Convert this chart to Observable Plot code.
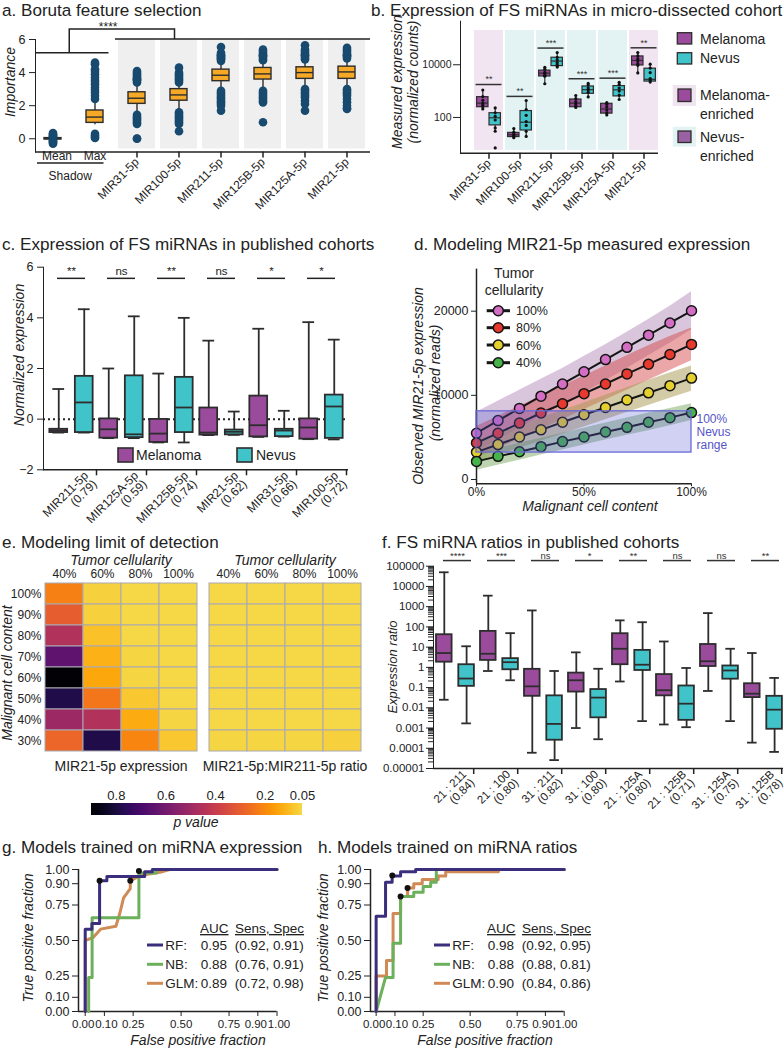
<!DOCTYPE html>
<html lang="en">
<head>
<meta charset="utf-8">
<title>FS miRNA figure</title>
<script src="https://cdn.jsdelivr.net/npm/d3@7"></script>
<script src="https://cdn.jsdelivr.net/npm/@observablehq/plot@0.6"></script>
<style>
  html, body { margin: 0; padding: 0; background: #fff; }
  #fig { position: relative; width: 784px; height: 1050px; overflow: hidden; background: #fff; }
</style>
</head>
<body>
<div id="fig"></div>
<script>
// ======================= DATA =======================
// ---- Panel a: Boruta importance ----
const aCats = ["Mean","Max","MIR31-5p","MIR100-5p","MIR211-5p","MIR125B-5p","MIR125A-5p","MIR21-5p"];
const aShadow = ["Mean","Max"];
const aSelected = ["MIR31-5p","MIR100-5p","MIR211-5p","MIR125B-5p","MIR125A-5p","MIR21-5p"];
const aTicks = [0, 2, 4, 6];
const aLo  = [-0.08, 0.85, 1.50, 1.65, 2.95, 3.00, 3.05, 3.05];
const aQ1  = [-0.04, 0.96, 2.11, 2.30, 3.48, 3.58, 3.62, 3.62];
const aMed = [ 0.00, 1.31, 2.45, 2.65, 3.84, 3.92, 4.00, 4.04];
const aQ3  = [ 0.04, 1.71, 2.81, 3.00, 4.18, 4.28, 4.32, 4.36];
const aHi  = [ 0.08, 2.30, 3.30, 3.35, 4.65, 4.70, 4.75, 4.80];
const aOutliers = [
  [-0.30,-0.25,-0.20,-0.15,-0.10,-0.05,0,0.05,0.10,0.15,0.20,0.25,0.30,0.35],
  [0.05,0.10,0.20,0.30,2.4,2.6,2.8,2.95,3.1,3.3,3.45,3.55,3.7,3.9,4.05,4.2,4.5,4.6],
  [0,0.02,0.9,1.0,1.1,1.2,1.25,1.35,1.45,3.4,3.5,3.55,3.6,3.65,3.7,3.8,3.9,4.0,4.1],
  [0.45,0.9,1.0,1.1,1.2,1.3,1.4,1.5,1.6,3.4,3.5,3.6,3.7,3.8,3.9,4.0,4.3],
  [1.7,2.0,2.1,2.2,2.3,2.4,2.5,2.6,2.7,2.8,2.9,4.7,4.8,4.85,4.9,4.95,5.0,5.05,5.1,5.2,5.55],
  [1.0,2.2,2.3,2.4,2.5,2.6,2.7,2.8,2.9,4.75,4.85,4.95,5.0,5.05,5.1,5.2,5.3,5.4],
  [1.7,2.1,2.3,2.5,2.6,2.7,2.8,2.9,3.0,4.8,4.9,5.0,5.05,5.1,5.2,5.3,5.4,5.65],
  [1.8,1.85,2.0,2.2,2.4,2.6,2.7,2.8,2.9,3.0,4.85,4.95,5.0,5.05,5.1,5.2,5.3,5.4,5.5]
];

// ---- Panel b: micro-dissected cohort ----
const bCats = ["MIR31-5p","MIR100-5p","MIR211-5p","MIR125B-5p","MIR125A-5p","MIR21-5p"];
const bMelEnriched = ["MIR31-5p","MIR21-5p"];
const bNevEnriched = ["MIR100-5p","MIR211-5p","MIR125B-5p","MIR125A-5p"];
const bTicks = [100, 10000];
const bMelLo  = [185, 16, 1900, 230, 120, 4800];
const bMelQ1  = [245, 18, 3600, 245, 140, 9400];
const bMelMed = [350, 22, 4800, 350, 210, 14600];
const bMelQ3  = [590, 26, 6000, 480, 330, 20700];
const bMelHi  = [1150, 40, 8100, 690, 380, 30000];
const bNevLo  = [30, 19, 8100, 540, 470, 2100];
const bNevQ1  = [50, 32, 8900, 790, 630, 2300];
const bNevMed = [97, 66, 13800, 1130, 1120, 2800];
const bNevQ3  = [145, 175, 18500, 1500, 1550, 7100];
const bNevHi  = [235, 450, 30000, 2000, 2200, 11000];
const bMelPoints = [
  [1100, 620, 450, 350, 300, 260, 210],
  [38, 28, 24, 21, 19, 17],
  [8000, 6800, 5200, 4600, 4000, 3700, 1900],
  [680, 520, 400, 330, 280, 240],
  [370, 320, 250, 190, 150, 125],
  [29000, 22000, 17000, 14000, 11000, 9500, 4900]
];
const bNevPoints = [
  [230, 150, 110, 80, 40, 30, 7],
  [440, 200, 120, 70, 50, 30, 19],
  [29000, 19000, 15000, 12000, 10000, 9000, 8200],
  [1950, 1700, 1300, 1100, 900, 600],
  [2150, 1800, 1300, 1000, 700, 480],
  [10500, 7500, 5000, 3000, 2500, 2200]
];
const bSigY = [1780, 630, 43000, 2950, 3100, 44000];
const bSigLabel = ["**","**","***","***","***","**"];

// ---- Panel c: published cohorts, normalized expression ----
const cGenes = ["MIR211-5p","MIR125A-5p","MIR125B-5p","MIR21-5p","MIR31-5p","MIR100-5p"];
const cAUC = ["0.79","0.59","0.74","0.62","0.66","0.72"];
const cTicks = [-2, 0, 2, 4, 6];
const cMelLo  = [-0.53, -0.75, -0.92, -0.63, -0.70, -0.79];
const cMelQ1  = [-0.53, -0.75, -0.92, -0.63, -0.70, -0.79];
const cMelMed = [-0.45, -0.40, -0.57, -0.53, -0.24, -0.33];
const cMelQ3  = [-0.40,  0.01, -0.01,  0.44,  0.91,  0.01];
const cMelHi  = [ 1.19,  2.00,  1.80,  3.10,  3.57,  3.83];
const cNevLo  = [-0.53, -0.75, -0.92, -0.62, -0.69, -0.80];
const cNevQ1  = [-0.53, -0.73, -0.53, -0.62, -0.69, -0.76];
const cNevMed = [ 0.66, -0.60,  0.46, -0.50, -0.45,  0.50];
const cNevQ3  = [ 1.69,  1.71,  1.65, -0.43, -0.40,  0.95];
const cNevHi  = [ 4.34,  4.06,  4.00,  0.30,  0.33,  3.14];
const cSigY = [5.56, 5.56, 5.56, 5.56, 5.56, 5.56];
const cSigLabel = ["**","ns","**","ns","*","*"];

// ---- Panel d: modeled MIR21-5p expression ----
const dContent = [0, 10, 20, 30, 40, 50, 60, 70, 80, 90, 100];
const dLevels = ["100%","80%","60%","40%"];
const d100 = [5500, 7000, 8450, 9900, 11350, 12800, 14250, 15700, 17150, 18600, 20050];
const d80  = [4350, 5500, 6700, 7900, 9000, 10200, 11350, 12550, 13700, 14850, 16050];
const d60  = [3250, 4150, 5050, 5900, 6800, 7700, 8550, 9450, 10300, 11150, 12050];
const d40  = [2150, 2750, 3300, 3900, 4500, 5050, 5650, 6200, 6800, 7350, 7950];
const d100Lo = [3300, 4700, 6100, 7500, 8900, 10300, 11700, 13200, 14700, 16200, 17800];
const d100Hi = [8000, 9300, 10600, 11900, 13200, 14600, 16000, 17500, 19000, 20600, 22300];
const d80Lo  = [2500, 3650, 4800, 5950, 7100, 8300, 9450, 10600, 11800, 12950, 14100];
const d80Hi  = [6300, 7500, 8700, 9900, 11100, 12300, 13500, 14700, 15900, 17000, 18000];
const d60Lo  = [2000, 2850, 3700, 4550, 5400, 6250, 7100, 7950, 8800, 9650, 10500];
const d60Hi  = [4600, 5500, 6400, 7300, 8200, 9100, 10000, 10900, 11800, 12650, 13500];
const d40Lo  = [1100, 1700, 2300, 2900, 3500, 4100, 4700, 5250, 5800, 6400, 7000];
const d40Hi  = [3100, 3700, 4300, 4900, 5500, 6100, 6700, 7300, 7900, 8450, 9000];
const dNevusRange = [3200, 8100];
const dXTicks = [0, 50, 100];
const dYTicks = [0, 10000, 20000];
const dDotColors = ["#d46ec4", "#e8392e", "#e6d02e", "#46b448"];
const dBandColors = ["#a070a8", "#d23c3c", "#a89850", "#6aa050"];

// ---- Panel e: limit of detection heatmaps ----
const ePanels = ["MIR21-5p expression", "MIR21-5p:MIR211-5p ratio"];
const eCellularity = ["40%","60%","80%","100%"];
const eContent = ["100%","90%","80%","70%","60%","50%","40%","30%"];
const ePExpr = [
  [0.22, 0.06, 0.05, 0.05],
  [0.30, 0.06, 0.05, 0.05],
  [0.45, 0.09, 0.05, 0.05],
  [0.645, 0.12, 0.055, 0.05],
  [0.89, 0.14, 0.055, 0.05],
  [0.78, 0.24, 0.08, 0.05],
  [0.50, 0.45, 0.13, 0.055],
  [0.28, 0.78, 0.21, 0.08]
];
const ePRatio = [
  [0.02, 0.02, 0.02, 0.02],
  [0.02, 0.02, 0.02, 0.02],
  [0.02, 0.02, 0.02, 0.02],
  [0.02, 0.02, 0.02, 0.02],
  [0.02, 0.02, 0.02, 0.02],
  [0.02, 0.02, 0.02, 0.02],
  [0.02, 0.02, 0.02, 0.02],
  [0.055, 0.055, 0.055, 0.06]
];
const eLegendTicks = [0.8, 0.6, 0.4, 0.2, 0.05];

// ---- Panel f: miRNA ratios ----
const fRatios = ["21 : 211","21 : 100","31 : 211","31 : 100","21 : 125A","21 : 125B","31 : 125A","31 : 125B"];
const fAUC = ["0.84","0.80","0.82","0.80","0.80","0.71","0.75","0.78"];
const fTickValues = [0.00001, 0.0001, 0.001, 0.01, 0.1, 1, 10, 100, 1000, 10000, 100000];
const fTickText = ["0.00001","0.0001","0.001","0.01","0.1","1","10","100","1000","10000","100000"];
const fMelLo  = [0.025, 0.66, 0.00006, 0.001, 0.2, 0.0015, 0.068, 0.00019];
const fMelQ1  = [1.8, 2.2, 0.037, 0.06, 1.35, 0.039, 1.1, 0.032];
const fMelMed = [5.1, 4.7, 0.115, 0.23, 8.3, 0.074, 2.0, 0.05];
const fMelQ3  = [41, 60, 0.8, 0.52, 46, 0.44, 13.5, 0.155];
const fMelHi  = [50000, 3500, 650, 5.5, 210, 19, 480, 5.1];
const fNevLo  = [0.0017, 0.23, 0.000026, 0.00028, 0.0022, 0.0011, 0.0022, 0.000066];
const fNevQ1  = [0.115, 0.76, 0.00025, 0.0032, 0.7, 0.0024, 0.26, 0.00087];
const fNevMed = [0.28, 1.8, 0.0016, 0.032, 1.35, 0.016, 0.7, 0.0081];
const fNevQ3  = [1.35, 2.7, 0.039, 0.08, 6.9, 0.12, 1.17, 0.037];
const fNevHi  = [11, 49, 0.66, 0.85, 170, 0.93, 8.3, 0.3];
const fSigY = [190000, 190000, 190000, 190000, 190000, 190000, 190000, 190000];
const fSigLabel = ["****","***","ns","*","**","ns","ns","**"];

// ---- Panels g, h: ROC curves ----
const rocTicks = [0, 0.10, 0.25, 0.50, 0.75, 0.90, 1.00];
const rocTicksLeftNudge = [0, 0.90];
const rocTicksRightNudge = [0.10, 1.00];
const rocTicksCentered = [0.25, 0.50, 0.75];
const rocModels = ["RF:", "NB:", "GLM:"];
const rocColors = ["#3b2f7d", "#6cb05c", "#d08a56"];
const gRF  = [[0,0],[0,0.58],[0.035,0.58],[0.035,0.62],[0.075,0.62],[0.075,0.92],[0.113,0.92],[0.113,0.95],[0.31,0.95],[0.31,0.985],[0.35,0.985],[0.35,1],[1,1]];
const gNB  = [[0.018,0],[0.018,0.24],[0.036,0.24],[0.036,0.66],[0.28,0.66],[0.28,0.975],[0.37,0.975],[0.37,1],[1,1]];
const gGLM = [[0,0],[0,0.5],[0.04,0.52],[0.08,0.58],[0.16,0.6],[0.18,0.69],[0.2,0.8],[0.235,0.865],[0.235,0.92],[0.29,0.96],[0.39,0.98],[0.44,1],[1,1]];
const gCutoffs = [[0.075,0.92],[0.235,0.92],[0.28,0.99]];
const gAUC = ["0.95","0.88","0.89"];
const gSensSpec = ["(0.92, 0.91)","(0.76, 0.91)","(0.72, 0.98)"];
const hRF  = [[0,0],[0,0.67],[0.05,0.67],[0.05,0.91],[0.085,0.91],[0.085,0.955],[0.13,0.955],[0.13,0.985],[0.21,0.985],[0.21,1],[0.33,1],[1,1]];
const hNB  = [[0,0],[0.05,0.24],[0.09,0.24],[0.09,0.48],[0.13,0.48],[0.13,0.81],[0.2,0.81],[0.2,0.84],[0.25,0.84],[0.25,0.88],[0.29,0.88],[0.29,0.91],[0.32,0.91],[0.32,1],[1,1]];
const hGLM = [[0,0],[0,0.25],[0.055,0.25],[0.055,0.36],[0.09,0.36],[0.09,0.69],[0.13,0.69],[0.13,0.81],[0.167,0.81],[0.167,0.87],[0.2,0.87],[0.2,0.9],[0.245,0.9],[0.245,0.93],[0.33,0.93],[0.33,0.955],[0.37,0.955],[0.37,0.985],[0.65,0.985],[0.65,1],[1,1]];
const hCutoffs = [[0.086,0.957],[0.13,0.81],[0.167,0.87]];
const hAUC = ["0.98","0.88","0.90"];
const hSensSpec = ["(0.92, 0.95)","(0.88, 0.81)","(0.84, 0.86)"];

// ======================= HELPERS =======================
const FONT = '"Liberation Sans", Arial, Helvetica, sans-serif';
const INK = "#222";
const MEL = "#9a4b9c";
const NEV = "#41c3ca";
const EDGE = "#2d2d2d";
const fig = document.getElementById("fig");

function sty(fs) {
  return {fontFamily: FONT, fontSize: fs + "px", color: INK, background: "transparent", overflow: "visible"};
}
function put(node, left, top) {
  node.style.position = "absolute";
  node.style.left = left + "px";
  node.style.top = top + "px";
  fig.appendChild(node);
  return node;
}
function rowsOf(cats, lo, q1, med, q3, hi) {
  return cats.map((cat, i) => ({cat, lo: lo[i], q1: q1[i], med: med[i], q3: q3[i], hi: hi[i]}));
}
function pointsOf(cats, lists) {
  return cats.flatMap((cat, i) => lists[i].map(v => ({cat, v})));
}
function boxMarks(rows, {dx = 0, inset = 0, capInset = null, fill, stroke = EDGE, sw = 1.6}) {
  const m = [Plot.ruleX(rows, {x: "cat", y1: "lo", y2: "hi", dx, stroke, strokeWidth: sw})];
  if (capInset != null) {
    m.push(Plot.tickY(rows, {x: "cat", y: "lo", dx, insetLeft: capInset, insetRight: capInset, stroke, strokeWidth: sw}));
    m.push(Plot.tickY(rows, {x: "cat", y: "hi", dx, insetLeft: capInset, insetRight: capInset, stroke, strokeWidth: sw}));
  }
  m.push(Plot.barY(rows, {x: "cat", y1: "q1", y2: "q3", dx, insetLeft: inset, insetRight: inset, fill, stroke, strokeWidth: sw}));
  m.push(Plot.tickY(rows, {x: "cat", y: "med", dx, insetLeft: inset, insetRight: inset, stroke, strokeWidth: sw}));
  return m;
}
function run(name, fn) { try { fn(); } catch (e) { console.error(name, e); } }

// ======================= PANEL a =======================
run("a", () => {
  const boxes = rowsOf(aCats, aLo, aQ1, aMed, aQ3, aHi);
  const dots = pointsOf(aCats, aOutliers);
  const p = Plot.plot({
    width: 380, height: 232, marginLeft: 35, marginRight: 10, marginTop: 21, marginBottom: 98.5,
    style: sty(12.5),
    x: {domain: aCats, range: [28, 370.3], paddingInner: 0.12, paddingOuter: 0.05},
    y: {domain: [-0.8, 6], ticks: aTicks, tickFormat: d3.format("d"), tickSize: 6, tickPadding: 4, line: true, label: null},
    marks: [
      Plot.barY(aSelected, {x: d => d, y1: () => -0.62, y2: () => 6, fill: "#efefef"}),
      Plot.ruleY([-0.8], {stroke: INK, strokeWidth: 1.5}),
      Plot.axisX({ticks: aSelected, tickRotate: -45, tickSize: 6, tickPadding: 2, fontSize: 12, label: null, strokeWidth: 1.5}),
      Plot.text(aShadow.slice(0, 1), {x: d => d, text: d => d, frameAnchor: "bottom", dy: 8, dx: 4, fontSize: 12}),
      Plot.text(aShadow.slice(1), {x: d => d, text: d => d, frameAnchor: "bottom", dy: 8, fontSize: 12}),
      ...boxMarks(boxes, {inset: 10, fill: "#f6a827", sw: 1.4}),
      Plot.dot(dots, {x: "cat", y: "v", r: 4.3, fill: "#174a6e"})
    ]
  });
  put(p, 0, 18);
  const sx = p.scale("x"), sy = p.scale("y"), bw = sx.bandwidth;
  const cx = c => sx.apply(c) + bw / 2;
  const g = d3.select(p).append("g").attr("stroke", INK).attr("stroke-width", 1.5).attr("fill", "none");
  const ys = sy.apply(5.17), yTop = sy.apply(6.6), yM = sy.apply(6.0);
  const xs0 = 36, xs1 = cx("Max") + 14;
  const xm0 = sx.apply("MIR31-5p") - 3, xm1 = 370;
  const xl = (xs0 + xs1) / 2 - 3, xr = cx("MIR100-5p") - 4;
  g.append("line").attr("x1", xs0).attr("x2", xs1).attr("y1", ys).attr("y2", ys);
  g.append("line").attr("x1", xm0).attr("x2", xm1).attr("y1", yM).attr("y2", yM);
  g.append("path").attr("d", `M${xl},${ys}V${yTop}H${xr}V${yM}`);
  const yb = sy.apply(-0.8);
  const u0 = 37, u1 = cx("Max") + 9;
  g.append("line").attr("x1", u0).attr("x2", u1).attr("y1", yb + 11.5).attr("y2", yb + 11.5);
  const t = d3.select(p).append("g").attr("fill", INK).attr("font-family", FONT).attr("text-anchor", "middle");
  t.append("text").attr("x", xl + (xr - xl) * 0.37).attr("y", yTop + 2).attr("font-size", 12).text("****");
  t.append("text").attr("x", (u0 + u1) / 2).attr("y", yb + 28.5).attr("font-size", 12).text("Shadow");
});

// ======================= PANEL b =======================
run("b", () => {
  const mel = rowsOf(bCats, bMelLo, bMelQ1, bMelMed, bMelQ3, bMelHi);
  const nev = rowsOf(bCats, bNevLo, bNevQ1, bNevMed, bNevQ3, bNevHi);
  const sig = bCats.map((cat, i) => ({cat, y: bSigY[i], label: bSigLabel[i]}));
  const p = Plot.plot({
    width: 290, height: 245, marginLeft: 70, marginRight: 22, marginTop: 3.7, marginBottom: 109.3,
    style: sty(10.5),
    x: {domain: bCats, paddingInner: 0.07, paddingOuter: 0.2, align: 1},
    y: {type: "log", domain: [4.4, 450000], ticks: bTicks, tickFormat: d3.format("d"), tickSize: 7, tickPadding: 2, line: true, label: null},
    marks: [
      Plot.barY(bMelEnriched, {x: d => d, y1: () => 5.6, y2: () => 200000, fill: "#f1e5f1"}),
      Plot.barY(bNevEnriched, {x: d => d, y1: () => 5.6, y2: () => 200000, fill: "#e3f3f4"}),
      Plot.ruleY([4.4], {stroke: INK, strokeWidth: 1.5}),
      Plot.axisX({tickRotate: -45, tickSize: 6, tickPadding: 2, fontSize: 12, label: null, strokeWidth: 1.5}),
      ...boxMarks(mel, {dx: -6.2, inset: 8.8, fill: MEL, sw: 1.2}),
      ...boxMarks(nev, {dx: 6.2, inset: 8.8, fill: NEV, sw: 1.2}),
      Plot.dot(pointsOf(bCats, bMelPoints), {x: "cat", y: "v", dx: -6.2, r: 1.6, fill: "#111"}),
      Plot.dot(pointsOf(bCats, bNevPoints), {x: "cat", y: "v", dx: 6.2, r: 1.6, fill: "#111"}),
      Plot.tickY(sig, {x: "cat", y: "y", insetLeft: 1.5, insetRight: 1.5, stroke: "#333", strokeWidth: 1.5}),
      Plot.text(sig, {x: "cat", y: "y", text: "label", dy: -5, fontSize: 9, fill: "#333"})
    ]
  });
  put(p, 390, 17);
});

// ======================= PANEL c =======================
run("c", () => {
  const mel = rowsOf(cGenes, cMelLo, cMelQ1, cMelMed, cMelQ3, cMelHi);
  const nev = rowsOf(cGenes, cNevLo, cNevQ1, cNevMed, cNevQ3, cNevHi);
  const sig = cGenes.map((cat, i) => ({cat, y: cSigY[i], label: cSigLabel[i]}));
  const label = new Map(cGenes.map((g, i) => [g, `${g}\n(${cAUC[i]})`]));
  const p = Plot.plot({
    width: 390, height: 268, marginLeft: 43, marginRight: 42, marginTop: 8.7, marginBottom: 56.7,
    style: sty(12.5),
    x: {domain: cGenes, paddingInner: 0, paddingOuter: 0.04},
    y: {domain: [-2, 6], ticks: cTicks, tickSize: 6, tickPadding: 4, line: true, label: null},
    marks: [
      Plot.ruleY([0], {stroke: INK, strokeWidth: 2, strokeDasharray: "2,3"}),
      Plot.ruleY([-2], {stroke: INK, strokeWidth: 1.5}),
      Plot.axisX({tickSize: 6, label: null, dx: 25, strokeWidth: 1.5, tickFormat: () => ""}),
      Plot.axisX({tickRotate: -45, tickSize: 0, tickPadding: 8, fontSize: 12, label: null, dx: 19, tickFormat: d => label.get(d)}),
      ...boxMarks(mel, {dx: -12.75, inset: 16.1, capInset: 19.1, fill: MEL, sw: 1.8}),
      ...boxMarks(nev, {dx: 12.75, inset: 16.1, capInset: 19.1, fill: NEV, sw: 1.8}),
      Plot.tickY(sig, {x: "cat", y: "y", insetLeft: 11, insetRight: 11, stroke: INK, strokeWidth: 1.5}),
      Plot.text(sig, {x: "cat", y: "y", text: "label", dy: -7, fontSize: 11.5, fill: INK})
    ]
  });
  put(p, 0, 258);
});

// ======================= PANEL d =======================
run("d", () => {
  const means = [d100, d80, d60, d40], los = [d100Lo, d80Lo, d60Lo, d40Lo], his = [d100Hi, d80Hi, d60Hi, d40Hi];
  const rows = dLevels.flatMap((lev, s) => dContent.map((x, i) => ({lev, x, y: means[s][i], lo: los[s][i], hi: his[s][i]})));
  const opac = [0.4, 0.45, 0.5, 0.45];
  const p = Plot.plot({
    width: 394, height: 262, marginLeft: 86, marginRight: 93, marginTop: 10.6, marginBottom: 36.8,
    style: sty(12),
    x: {domain: [0, 100]},
    y: {domain: [-500, 25000]},
    color: {domain: dLevels, range: dDotColors},
    marks: [
      ...dLevels.map((lev, s) => Plot.areaY(rows.filter(r => r.lev === lev), {x: "x", y1: "lo", y2: "hi", fill: dBandColors[s], fillOpacity: opac[s]})),
      Plot.ruleY([-500], {stroke: INK, strokeWidth: 1.5}),
      Plot.ruleX([0], {stroke: INK, strokeWidth: 1.5}),
      Plot.axisX({ticks: dXTicks, tickFormat: d => d + "%", tickSize: 3, tickPadding: 1, fontSize: 12, label: null}),
      Plot.axisY({ticks: dYTicks, tickFormat: d3.format("d"), tickSize: 5, tickPadding: 3, fontSize: 12.5, label: null}),
      Plot.line(rows, {x: "x", y: "y", z: "lev", stroke: "#151515", strokeWidth: 2}),
      Plot.dot(rows, {x: "x", y: "y", fill: "lev", stroke: "#151515", strokeWidth: 1.5, r: 5}),
      Plot.rect([dNevusRange], {x1: () => dContent[0], x2: () => dContent[dContent.length - 1], y1: d => d[0], y2: d => d[1], fill: "#5b5bd6", fillOpacity: 0.28, stroke: "#6a6ad8", strokeWidth: 1.3}),
      Plot.text([dNevusRange], {x: () => dContent[dContent.length - 1], y: d => (d[0] + d[1]) / 2, text: () => "100%\nNevus\nrange", dx: 5, textAnchor: "start", fill: "#5555c8", fontSize: 12, lineHeight: 1.1})
    ]
  });
  put(p, 390, 258);
});

// ======================= PANEL e =======================
let eColor = null;
run("e", () => {
  const rows = [];
  ePanels.forEach((panel, k) => {
    const m = k === 0 ? ePExpr : ePRatio;
    eContent.forEach((content, r) => eCellularity.forEach((cell, c) => rows.push({panel, content, cell, p: m[r][c]})));
  });
  const p = Plot.plot({
    width: 380, height: 225, marginLeft: 44, marginRight: 19, marginTop: 25, marginBottom: 27,
    style: sty(12),
    fx: {domain: ePanels, paddingInner: 0.07, paddingOuter: 0},
    x: {domain: eCellularity, padding: 0},
    y: {domain: eContent, padding: 0},
    color: {type: "linear", domain: [0.05, 0.9], interpolate: t => d3.interpolateInferno(0.9 * (1 - t)), clamp: true},
    marks: [
      Plot.cell(rows, {fx: "panel", x: "cell", y: "content", fill: "p", stroke: "#a9a9b2", strokeWidth: 1}),
      Plot.axisX({anchor: "top", tickSize: 0, tickPadding: 3, fontSize: 12, label: null}),
      Plot.axisY({tickSize: 0, tickPadding: 3, fontSize: 12, label: null}),
      Plot.axisFx({anchor: "bottom", tickSize: 0, tickPadding: 8, fontSize: 14, label: null}),
      Plot.text(["Tumor cellularity"], {text: d => d, frameAnchor: "top", dy: -16, lineAnchor: "bottom", fontSize: 14, fontStyle: "italic"})
    ]
  });
  put(p, 0, 555);
  eColor = p.scale("color");
});

run("e-legend", () => {
  const p = Plot.plot({
    width: 240, height: 45, marginLeft: 11, marginRight: 18, marginTop: 18, marginBottom: 15,
    style: sty(13),
    x: {domain: [0.9, 0.05]},
    marks: [
      Plot.axisX({anchor: "top", ticks: eLegendTicks, tickFormat: d => String(d), tickSize: 0, tickPadding: 4, fontSize: 13, label: null})
    ]
  });
  put(p, 80, 785);
  const sx = p.scale("x");
  const svg = d3.select(p);
  const grad = svg.append("defs").append("linearGradient").attr("id", "pgrad").attr("x1", "0%").attr("x2", "100%");
  const d0 = 0.9, d1 = 0.05;
  for (let k = 0; k <= 20; k++) {
    const t = k / 20;
    grad.append("stop").attr("offset", t).attr("stop-color", eColor.apply(d0 + (d1 - d0) * t));
  }
  svg.insert("rect", ":first-child")
    .attr("x", sx.apply(d0)).attr("width", sx.apply(d1) - sx.apply(d0))
    .attr("y", 18).attr("height", 12).attr("fill", "url(#pgrad)");
});

// ======================= PANEL f =======================
run("f", () => {
  const mel = rowsOf(fRatios, fMelLo, fMelQ1, fMelMed, fMelQ3, fMelHi);
  const nev = rowsOf(fRatios, fNevLo, fNevQ1, fNevMed, fNevQ3, fNevHi);
  const sig = fRatios.map((cat, i) => ({cat, y: fSigY[i], label: fSigLabel[i]}));
  const label = new Map(fRatios.map((r, i) => [r, `${r}\n(${fAUC[i]})`]));
  const p = Plot.plot({
    width: 394, height: 255, marginLeft: 43, marginRight: 1, marginTop: 17.7, marginBottom: 35,
    style: sty(11.5),
    x: {domain: fRatios, range: [37.6, 393], padding: 0},
    y: {type: "log", domain: [0.00001, 100000], ticks: fTickValues, tickFormat: d => fTickText[fTickValues.indexOf(d)], tickSize: 7, tickPadding: 2, line: true, label: null},
    marks: [
      Plot.ruleY([0.00001], {stroke: INK, strokeWidth: 1.5}),
      Plot.axisX({tickSize: 6, label: null, dx: 22.2, strokeWidth: 1.5, tickFormat: () => ""}),
      Plot.axisX({tickRotate: -45, tickSize: 0, tickPadding: 8, fontSize: 11.5, label: null, dx: 17, tickFormat: d => label.get(d)}),
      ...boxMarks(mel, {dx: -7.2, inset: 14.2, capInset: 17.2, fill: MEL, sw: 1.8}),
      ...boxMarks(nev, {dx: 15.1, inset: 14.2, capInset: 17.2, fill: NEV, sw: 1.8}),
      Plot.tickY(sig, {x: "cat", y: "y", insetLeft: 14, insetRight: 2, stroke: "#333", strokeWidth: 1.5}),
      Plot.text(sig, {x: "cat", y: "y", text: "label", dx: 6, dy: -4.5, fontSize: 9.5, fill: "#333"})
    ]
  });
  put(p, 390, 548);
  const sy = p.scale("y");
  const g = d3.select(p).append("g").attr("stroke", INK).attr("stroke-width", 1);
  for (let e = -5; e < 5; e++) {
    for (let m = 2; m <= 9; m++) {
      const yy = sy.apply(m * Math.pow(10, e));
      g.append("line").attr("x1", 43 - 5).attr("x2", 43).attr("y1", yy).attr("y2", yy);
    }
  }
});

// ======================= PANELS g, h =======================
function rocPlot(left, curves, cuts, xMin, mR) {
  const f2 = d3.format(".2f");
  const p = Plot.plot({
    width: 300, height: 192, marginLeft: 78, marginRight: mR, marginTop: 11, marginBottom: 39,
    style: sty(12),
    x: {domain: [xMin, 1]},
    y: {domain: [0, 1]},
    marks: [
      Plot.ruleY([0], {stroke: INK, strokeWidth: 1.5}),
      Plot.ruleX([xMin], {stroke: INK, strokeWidth: 1.5}),
      Plot.axisX({ticks: rocTicks, tickFormat: () => "", tickSize: 5, label: null}),
      Plot.axisX({ticks: rocTicksCentered, tickFormat: f2, tickSize: 0, tickPadding: 8, fontSize: 11.5, label: null}),
      Plot.axisX({ticks: rocTicksLeftNudge, tickFormat: f2, tickSize: 0, tickPadding: 8, fontSize: 11.5, label: null, dx: -2}),
      Plot.axisX({ticks: rocTicksRightNudge, tickFormat: f2, tickSize: 0, tickPadding: 8, fontSize: 11.5, label: null, dx: 2}),
      Plot.axisY({ticks: rocTicks, tickFormat: f2, tickSize: 6, tickPadding: 3, fontSize: 12.5, label: null}),
      Plot.line(curves[2], {x: d => d[0], y: d => d[1], stroke: rocColors[2], strokeWidth: 3}),
      Plot.line(curves[1], {x: d => d[0], y: d => d[1], stroke: rocColors[1], strokeWidth: 3}),
      Plot.line(curves[0], {x: d => d[0], y: d => d[1], stroke: rocColors[0], strokeWidth: 3}),
      Plot.dot(cuts, {x: d => d[0], y: d => d[1], r: 3, fill: "#111"})
    ]
  });
  put(p, left, 858);
}
run("g", () => rocPlot(0, [gRF, gNB, gGLM], gCutoffs, -0.035, 23.5));
run("h", () => rocPlot(292, [hRF, hNB, hGLM], hCutoffs, -0.03, 28.3));

// ======================= OVERLAY TEXT / LEGENDS =======================
run("overlay", () => {
  const ov = d3.select(fig).append("svg")
    .attr("width", 784).attr("height", 1050)
    .style("position", "absolute").style("left", "0px").style("top", "0px")
    .style("pointer-events", "none").style("overflow", "visible")
    .attr("font-family", FONT);
  function T(x, y, s, o = {}) {
    const t = ov.append("text")
      .attr("transform", `translate(${x},${y})` + (o.rotate ? ` rotate(${o.rotate})` : ""))
      .attr("font-size", o.size || 14)
      .attr("text-anchor", o.anchor || "start")
      .attr("fill", o.fill || INK)
      .text(s);
    if (o.italic) t.attr("font-style", "italic");
    if (o.underline) t.attr("text-decoration", "underline");
    return t;
  }
  function R(x, y, w, h, fill, stroke, sw = 1.3) {
    const r = ov.append("rect").attr("x", x).attr("y", y).attr("width", w).attr("height", h).attr("fill", fill);
    if (stroke) r.attr("stroke", stroke).attr("stroke-width", sw);
  }
  function L(x1, y1, x2, y2, stroke, sw) {
    ov.append("line").attr("x1", x1).attr("y1", y1).attr("x2", x2).attr("y2", y2).attr("stroke", stroke).attr("stroke-width", sw);
  }
  const TS = 17.1;
  T(2, 16, "a. Boruta feature selection", {size: TS});
  T(371, 16, "b. Expression of FS miRNAs in micro-dissected cohort", {size: TS});
  T(2, 250, "c. Expression of FS miRNAs in published cohorts", {size: TS});
  T(414, 250, "d. Modeling MIR21-5p measured expression", {size: TS});
  T(2, 548, "e. Modeling limit of detection", {size: TS});
  T(382, 548, "f. FS miRNA ratios in published cohorts", {size: TS});
  T(2, 853, "g. Models trained on miRNA expression", {size: TS});
  T(318, 853, "h. Models trained on miRNA ratios", {size: TS});

  const yl = {rotate: -90, anchor: "middle", italic: true, size: 14};
  T(15, 82, "Importance", yl);
  T(402, 82, "Measured expression", yl);
  T(418, 82, "(normalized counts)", yl);
  T(24, 355, "Normalized expression", yl);
  T(423, 386, "Observed MIR21-5p expression", yl);
  T(440, 383, "(normalized reads)", yl);
  T(590, 511, "Malignant cell content", {anchor: "middle", italic: true, size: 14});
  T(12, 673, "Malignant cell content", yl);
  T(196, 827, "p value", {anchor: "middle", italic: true, size: 14});
  T(397, 667, "Expression ratio", {rotate: -90, anchor: "middle", italic: true, size: 13});
  T(33, 938, "True positive fraction", yl);
  T(198, 1045, "False positive fraction", {anchor: "middle", italic: true, size: 14});
  T(328, 938, "True positive fraction", yl);
  T(485, 1045, "False positive fraction", {anchor: "middle", italic: true, size: 14});

  // legend b
  R(677.3, 32.7, 14.4, 11.3, MEL, EDGE);
  T(700, 43.5, "Melanoma", {size: 14});
  R(677.3, 52.7, 14.4, 11.3, NEV, EDGE);
  T(700, 63, "Nevus", {size: 14});
  R(672.7, 85, 23.3, 21, "#f0e4f0");
  R(678, 89, 13, 12.5, MEL, EDGE);
  T(700, 100, "Melanoma-", {size: 14});
  T(700, 119.3, "enriched", {size: 14});
  R(672.7, 126.7, 23.3, 20, "#e3f3f4");
  R(678, 131, 13, 11.5, "#9a62a2", EDGE);
  T(700, 141.7, "Nevus-", {size: 14});
  T(700, 161, "enriched", {size: 14});

  // legend c
  R(118, 448, 15, 14, MEL, EDGE, 1.6);
  T(136, 460, "Melanoma", {size: 14});
  R(237, 448, 15, 14, NEV, EDGE, 1.6);
  T(256, 460, "Nevus", {size: 14});

  // legend d
  T(514, 278, "Tumor", {anchor: "middle", size: 14});
  T(514, 295, "cellularity", {anchor: "middle", size: 14});
  const ly = [310.7, 327.7, 345, 362.7];
  dLevels.forEach((lev, i) => {
    L(486.7, ly[i], 510, ly[i], "#151515", 3);
    ov.append("circle").attr("cx", 498.3).attr("cy", ly[i]).attr("r", 5).attr("fill", dDotColors[i]).attr("stroke", "#151515").attr("stroke-width", 1.5);
    T(516, ly[i] + 4.5, lev, {size: 12.5});
  });

  // legends g, h
  function rocLegend(dx, auc, ss) {
    T(200 + dx, 933, "AUC", {size: 13.5, underline: true});
    T(235 + dx, 933, "Sens, Spec", {size: 13.5, underline: true});
    const ry = [950, 969.3, 988.3];
    rocModels.forEach((m, i) => {
      L(147 + dx, ry[i] - 5, 163 + dx, ry[i] - 5, rocColors[i], 3);
      T(165.3 + dx, ry[i], m, {size: 13.5});
      T(200.7 + dx, ry[i], auc[i], {size: 13.5});
      T(234.7 + dx, ry[i], ss[i], {size: 13.5});
    });
  }
  rocLegend(0, gAUC, gSensSpec);
  rocLegend(287, hAUC, hSensSpec);
});
</script>
</body>
</html>
